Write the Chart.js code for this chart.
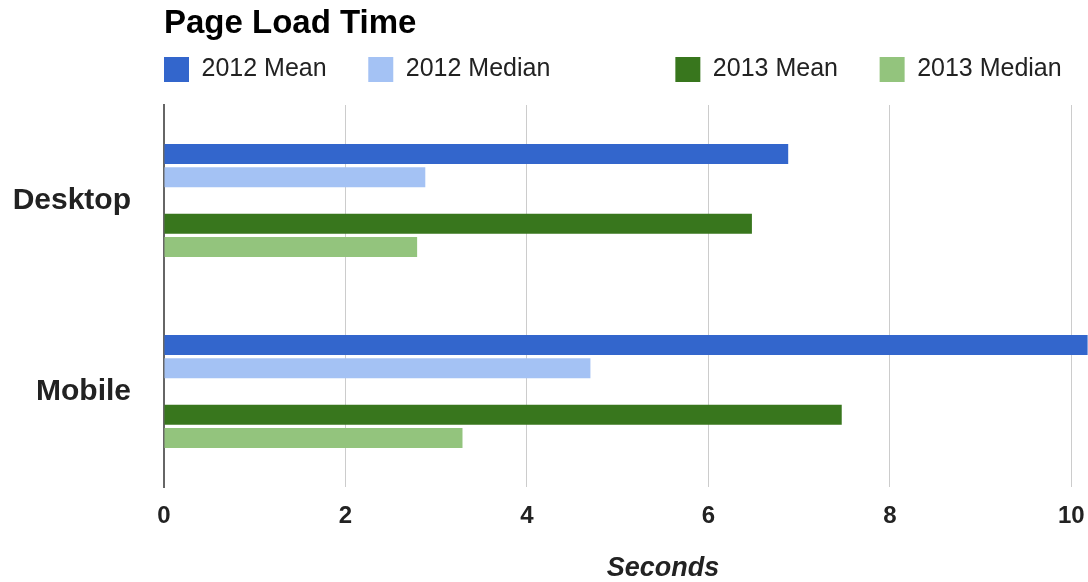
<!DOCTYPE html>
<html>
<head>
<meta charset="utf-8">
<title>Page Load Time</title>
<script src="https://cdn.jsdelivr.net/npm/chart.js@4/dist/chart.umd.min.js"></script>
<style>
  html, body { margin: 0; padding: 0; overflow: hidden; background: #fff; }
  canvas { display: block; }
</style>
</head>
<body>
<canvas id="loadChart" width="1180" height="582"></canvas>
<script>
// seconds per device type
const devices = ['Desktop', 'Mobile'];
const mean2012 = [6.88, 10.18];
const median2012 = [2.88, 4.7];
const mean2013 = [6.48, 7.47];
const median2013 = [2.79, 3.29];
// empty series, only there to open a gap between the two years
const blank = [null, null];
const secondTicks = [0, 2, 4, 6, 8, 10];

// spaces added after each legend entry to spread the row out
const legendGap = { '2012 Mean': 6, '2012 Median': 18, '2013 Mean': 6, '2013 Median': 0 };

Chart.defaults.font.family = '"Liberation Sans", Arial, sans-serif';

const data = {
  labels: devices,
  datasets: [
    { label: '2012 Mean', data: mean2012, backgroundColor: '#3366cc' },
    { label: '2012 Median', data: median2012, backgroundColor: '#a4c2f4' },
    { label: '', data: blank, backgroundColor: 'rgba(0,0,0,0)' },
    { label: '2013 Mean', data: mean2013, backgroundColor: '#38761d' },
    { label: '2013 Median', data: median2013, backgroundColor: '#93c47d' }
  ]
};

const config = {
  type: 'bar',
  data: data,
  options: {
    indexAxis: 'y',
    responsive: false,
    animation: false,
    events: [],
    layout: { padding: { left: 0, right: 18, top: 0, bottom: 0 } },
    datasets: {
      bar: { categoryPercentage: 0.61, barPercentage: 0.86 }
    },
    plugins: {
      title: {
        display: true,
        text: 'Page Load Time',
        align: 'start',
        fullSize: false,
        color: '#000',
        font: { size: 33, weight: 'bold' },
        padding: { top: 4, bottom: 13.4 }
      },
      legend: {
        display: true,
        position: 'top',
        align: 'start',
        fullSize: false,
        labels: {
          boxWidth: 25,
          boxHeight: 25,
          padding: 0,
          color: '#222',
          font: { size: 25 },
          generateLabels: function (chart) {
            const items = Chart.defaults.plugins.legend.labels.generateLabels(chart);
            return items
              .filter(item => item.text)
              .map(item => Object.assign(item, {
                text: item.text + ' '.repeat(legendGap[item.text] || 0)
              }));
          }
        }
      },
      tooltip: { enabled: false }
    },
    scales: {
      x: {
        min: 0,
        max: 11,
        afterBuildTicks: function (scale) {
          scale.ticks = secondTicks.map(v => ({ value: v }));
        },
        afterFit: function (scale) { scale.height = 95; },
        grid: { color: '#ccc', lineWidth: 1, drawTicks: false },
        border: { display: false },
        ticks: {
          padding: 15,
          color: '#222',
          font: { size: 24, weight: 'bold' }
        },
        title: {
          display: true,
          text: 'Seconds',
          color: '#222',
          font: { size: 27, weight: 'bold', style: 'italic' },
          padding: { top: 0, bottom: -3 }
        }
      },
      y: {
        z: 1,
        afterFit: function (scale) { scale.width = 164; },
        grid: { display: false, drawTicks: false },
        border: { display: true, color: '#666', width: 2 },
        ticks: {
          padding: 33,
          color: '#222',
          font: { size: 30, weight: 'bold' }
        }
      },
      // thin strip between the legend and the plot
      gap: {
        axis: 'x',
        position: 'top',
        afterFit: function (scale) { scale.height = 13; },
        grid: { display: false },
        border: { display: false },
        ticks: { display: false }
      }
    }
  }
};

const loadChart = new Chart(
  document.getElementById('loadChart').getContext('2d'),
  config
);
</script>
</body>
</html>
